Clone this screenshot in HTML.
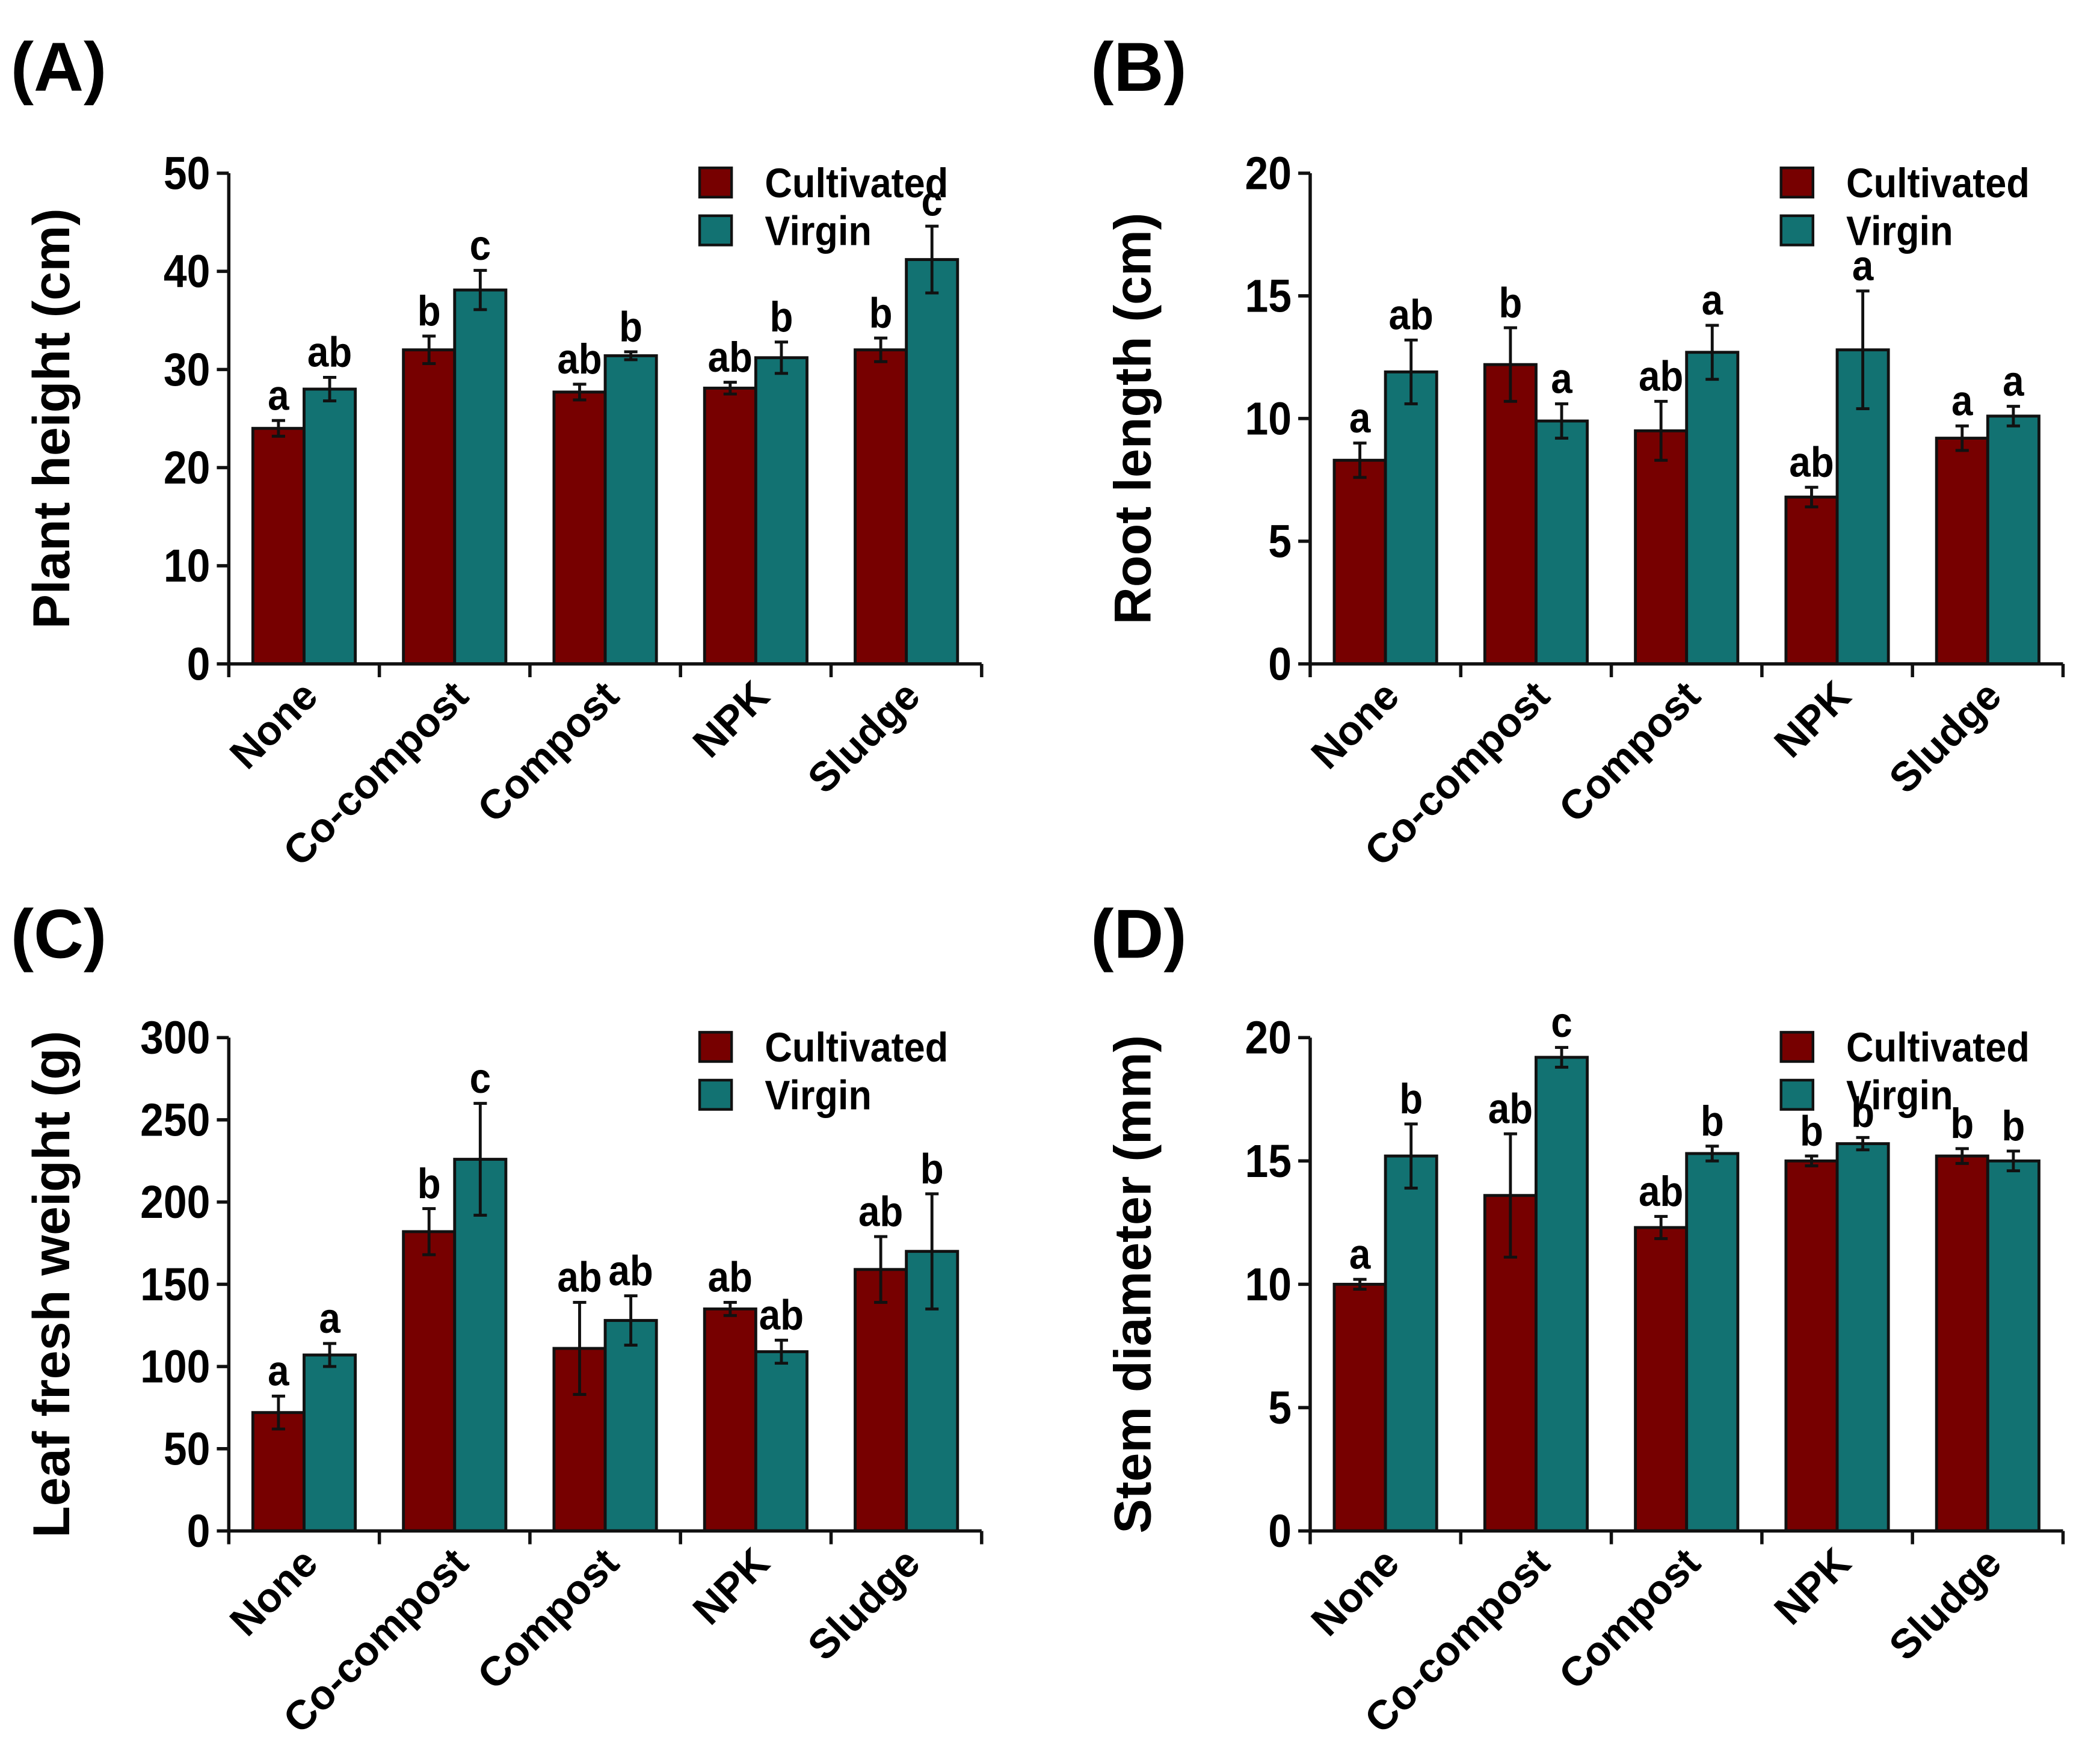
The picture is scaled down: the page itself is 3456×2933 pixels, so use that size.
<!DOCTYPE html>
<html><head><meta charset="utf-8"><style>
html,body{margin:0;padding:0;background:#fff;}
svg{display:block;}
.t{font-family:"Liberation Sans",Arial,sans-serif;font-weight:bold;}
.n{font-family:"Liberation Sans Narrow","Liberation Sans",Arial,sans-serif;font-weight:bold;}
</style></head><body>
<svg id="fig" width="3456" height="2933" viewBox="0 0 1563 1326" xmlns="http://www.w3.org/2000/svg"></svg>
<script>
const categories = ["None","Co-compost","Compost","NPK","Sludge"];
const seriesNames = ["Cultivated","Virgin"];
// Panel A: plant height
const aCult = [24,32,27.7,28.1,32];
const aCultErr = [0.8,1.4,0.8,0.6,1.2];
const aVirg = [28,38.1,31.4,31.2,41.2];
const aVirgErr = [1.2,2,0.4,1.6,3.4];
const aCultLet = ["a","b","ab","ab","b"];
const aVirgLet = ["ab","c","b","b","c"];
const aTicks = [0,10,20,30,40,50];
// Panel B: root length
const bCult = [8.3,12.2,9.5,6.8,9.2];
const bCultErr = [0.7,1.5,1.2,0.4,0.5];
const bVirg = [11.9,9.9,12.7,12.8,10.1];
const bVirgErr = [1.3,0.7,1.1,2.4,0.4];
const bCultLet = ["a","b","ab","ab","a"];
const bVirgLet = ["ab","a","a","a","a"];
const bTicks = [0,5,10,15,20];
// Panel C: leaf fresh weight
const cCult = [72,182,111,135,159];
const cCultErr = [10,14,28,4,20];
const cVirg = [107,226,128,109,170];
const cVirgErr = [7,34,15,7,35];
const cCultLet = ["a","b","ab","ab","ab"];
const cVirgLet = ["a","c","ab","ab","b"];
const cTicks = [0,50,100,150,200,250,300];
// Panel D: stem diameter
const dCult = [10.0,13.6,12.3,15.0,15.2];
const dCultErr = [0.2,2.5,0.45,0.2,0.3];
const dVirg = [15.2,19.2,15.3,15.7,15.0];
const dVirgErr = [1.3,0.4,0.3,0.25,0.4];
const dCultLet = ["a","ab","ab","b","b"];
const dVirgLet = ["b","c","b","b","b"];
const dTicks = [0,5,10,15,20];

const NS="http://www.w3.org/2000/svg";
const svg=document.getElementById('fig');
const COL=["#770000","#127272"];
function mk(tag,attrs,parent,text){const e=document.createElementNS(NS,tag);for(const k in attrs)e.setAttribute(k,attrs[k]);if(text!==undefined)e.textContent=text;(parent||svg).appendChild(e);return e;}

function panel(p){
  const g=mk('g',{});
  
  
  const x0=p.x0, y0=p.y0, yTop=p.yTop, w=566, max=p.ticks[p.ticks.length-1];
  const ys=v=>y0-(v/max)*(y0-yTop);
  const gw=w/categories.length;
  const bw=38.5;
  const lab=mk('text',{x:p.lx,y:p.ly,'font-size':52,class:'t'},g,'('+p.id+')');
  
  
  const yt=mk('text',{x:0,y:0,'font-size':39,class:'t','text-anchor':'middle',transform:`translate(${x0-120},${(y0+yTop)/2}) rotate(-90)`},g,p.title);
  
  
  const sets=[[p.c,p.ce,p.cl],[p.v,p.ve,p.vl]];
  categories.forEach((cat,i)=>{
    const cx=x0+gw*(i+0.5);
    sets.forEach((s,j)=>{
      const bx=cx-bw+j*bw, val=s[0][i], err=s[1][i];
      const r=mk('rect',{x:bx,y:ys(val),width:bw,height:y0-ys(val),fill:COL[j],stroke:'#111','stroke-width':2.2},g);
      
      
      const ex=bx+bw/2, t=ys(val+err), b=ys(val-err);
      const eb=mk('path',{d:`M${ex},${t}V${b}M${ex-5},${t}H${ex+5}M${ex-5},${b}H${ex+5}`,stroke:'#111','stroke-width':2.2,fill:'none'},g);
      
      
      const lt=mk('text',{x:ex,y:t-8,'font-size':32,class:'n','text-anchor':'middle',transform:`translate(${ex},0) scale(0.9,1) translate(${-ex},0)`},g,s[2][i]);
      
      
    });
    const cl=mk('text',{x:0,y:0,'font-size':31,class:'t','text-anchor':'end',transform:`translate(${cx+12},${y0+26}) rotate(-45)`},g,cat);
    
    
  });
  const ax=mk('path',{d:`M${x0},${yTop}V${y0}H${x0+w}`,stroke:'#111','stroke-width':2.5,fill:'none'},g);
  
  
  for(let i=0;i<=categories.length;i++){
    const tx=x0+gw*i;
    mk('line',{x1:tx,x2:tx,y1:y0,y2:y0+10,stroke:'#111','stroke-width':2.5},g);
  }
  p.ticks.forEach(v=>{
    mk('line',{x1:x0-9,x2:x0,y1:ys(v),y2:ys(v),stroke:'#111','stroke-width':2.5},g);
    const tx=x0-14;
    const tl=mk('text',{x:tx,y:ys(v)+12,'font-size':35,class:'n','text-anchor':'end',transform:`translate(${tx},0) scale(0.9,1) translate(${-tx},0)`},g,v);
    
    
  });
  seriesNames.forEach((nm,j)=>{
    const ly=p.legY+j*36;
    const sq=mk('rect',{x:x0+354,y:ly-11,width:24,height:22,fill:COL[j],stroke:'#111','stroke-width':2},g);
    
    
    const lx=x0+403;
    const lt=mk('text',{x:lx,y:ly+11,'font-size':31,class:'n',transform:`translate(${lx},0) scale(0.92,1) translate(${-lx},0)`},g,nm);
    
    
  });
}
panel({id:'A',x0:172,y0:499,yTop:130,lx:8,ly:68,title:'Plant height (cm)',ticks:aTicks,c:aCult,ce:aCultErr,cl:aCultLet,v:aVirg,ve:aVirgErr,vl:aVirgLet,legY:137});
panel({id:'B',x0:985,y0:499,yTop:130,lx:820,ly:68,title:'Root length (cm)',ticks:bTicks,c:bCult,ce:bCultErr,cl:bCultLet,v:bVirg,ve:bVirgErr,vl:bVirgLet,legY:137});
panel({id:'C',x0:172,y0:1151,yTop:780,lx:8,ly:720,title:'Leaf fresh weight (g)',ticks:cTicks,c:cCult,ce:cCultErr,cl:cCultLet,v:cVirg,ve:cVirgErr,vl:cVirgLet,legY:787});
panel({id:'D',x0:985,y0:1151,yTop:780,lx:820,ly:720,title:'Stem diameter (mm)',ticks:dTicks,c:dCult,ce:dCultErr,cl:dCultLet,v:dVirg,ve:dVirgErr,vl:dVirgLet,legY:787});
</script>
</body></html>
